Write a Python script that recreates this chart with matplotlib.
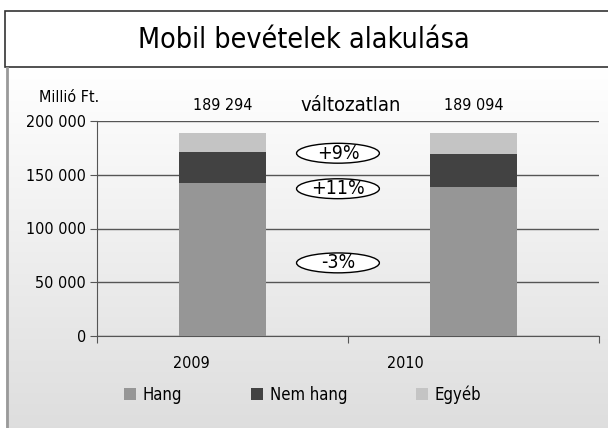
import numpy as np
import matplotlib.pyplot as plt
from matplotlib.patches import Rectangle, Ellipse
from matplotlib.ticker import FuncFormatter

plt.rcParams['font.family'] = ['DejaVu Sans']
plt.rcParams['font.stretch'] = 'condensed'

years = ['2009', '2010']
series = ['Hang', 'Nem hang', 'Egyéb']
hang = [142500, 138300]
nem_hang = [28600, 31000]
egyeb = [18194, 19794]
totals = ['189 294', '189 094']
changes = ['-3%', '+11%', '+9%']
change_pos = [68000, 137000, 170000]
colors = ['#969696', '#424242', '#c4c4c4']

W, H = 608, 428
fig = plt.figure(figsize=(W / 100, H / 100), dpi=100)

# gradient background under the title box
bg = fig.add_axes([6 / W, 0, 1 - 6 / W, (H - 68) / H])
grad = np.linspace(1.0, 0.87, 256).reshape(-1, 1)
bg.imshow(np.dstack([grad] * 3), aspect='auto', extent=[0, 1, 0, 1])
bg.set_axis_off()

# title box
fig.patches.append(Rectangle((4.5 / W, (H - 67) / H), 1, 56.5 / H, transform=fig.transFigure,
                             facecolor='white', edgecolor='#333333', lw=1.2))
fig.lines.append(plt.Line2D([6.5 / W, 6.5 / W], [0, (H - 68) / H], transform=fig.transFigure,
                            color='#9a9a9a', lw=2))
fig.text(0.5, (H - 40) / H, 'Mobil bevételek alakulása', ha='center', va='center', fontsize=20.5)

ax = fig.add_axes([97 / W, (H - 336) / H, 502 / W, 215 / H])
ax.patch.set_alpha(0)
x = np.arange(len(years))
bottom = np.zeros(len(years))
for vals, name, c in zip([hang, nem_hang, egyeb], series, colors):
    ax.bar(x, vals, width=0.35, bottom=bottom, color=c, label=name, zorder=3)
    bottom += np.array(vals)

ax.set_xlim(-0.5, 1.5)
ax.set_ylim(0, 200000)
ax.set_yticks(np.arange(0, 200001, 50000))
ax.yaxis.set_major_formatter(FuncFormatter(lambda v, p: f'{int(v):,}'.replace(',', ' ')))
ax.grid(axis='y', color='#555555', lw=1, zorder=0)
ax.set_xticks([-0.5, 0.5, 1.5])
ax.set_xticklabels([])
ax.tick_params(axis='x', length=5, color='#555555')
ax.tick_params(axis='y', length=5, color='#555555', labelsize=11.5, pad=3)
for s in ['top', 'right']:
    ax.spines[s].set_visible(False)
for s in ['left', 'bottom']:
    ax.spines[s].set_color('#555555')

offsets = [-0.125, -0.27]
for i, y in enumerate(years):
    ax.text(i + offsets[i], -25500, y, ha='center', va='center', fontsize=11.5)
    ax.text(i, bottom[i] + 25000, totals[i], ha='center', va='center', fontsize=11.5)

ax.text(0.512, 214000, 'változatlan', ha='center', va='center', fontsize=14.5)
ax.text(-0.61, 221500, 'Millió Ft.', ha='center', va='center', fontsize=11.5)

for lab, yy in zip(changes, change_pos):
    ax.add_patch(Ellipse((0.46, yy), 0.33, 18500, facecolor='white', edgecolor='black', lw=1, zorder=4))
    ax.text(0.46, yy, lab, ha='center', va='center', fontsize=14, zorder=5)

fig.legend(*ax.get_legend_handles_labels(), loc='center left', bbox_to_anchor=(124 / W, (H - 395) / H),
           ncol=3, frameon=False, fontsize=12, handlelength=0.72, handleheight=0.72,
           columnspacing=4.1, handletextpad=0.42, borderpad=0, borderaxespad=0)

fig.savefig('out.png', dpi=100)
